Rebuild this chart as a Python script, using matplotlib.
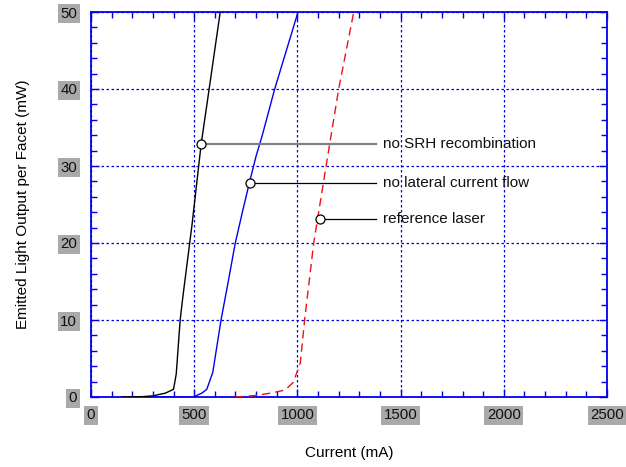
import matplotlib
matplotlib.use("Agg")
import matplotlib.pyplot as plt
from matplotlib.ticker import MultipleLocator

plt.rcParams['font.family'] = ['Liberation Sans', 'DejaVu Sans']

# Data (mA, mW)
srh_current = [150, 250, 300, 360, 400, 413, 432, 445, 490, 534, 574, 626]
srh_power = [0.0, 0.05, 0.15, 0.5, 1.0, 3.0, 10.0, 13.0, 22.5, 32.9, 40.3, 50.0]

lat_current = [300, 495, 537, 561, 590, 630, 665, 699, 736, 768, 800, 830, 890, 1003]
lat_power = [0.0, 0.0, 0.5, 1.0, 3.2, 10.0, 15.0, 20.0, 24.3, 27.9, 31.3, 34.0, 40.0, 50.0]

ref_current = [700, 800, 870, 940, 980, 1014, 1035, 1079, 1139, 1200, 1273]
ref_power = [0.0, 0.2, 0.5, 0.9, 1.9, 4.4, 10.0, 20.0, 30.0, 40.0, 50.0]

ann_labels = ["no SRH recombination", "no lateral current flow", "reference laser"]
ann_current = [534, 768, 1108]
ann_power = [32.9, 27.8, 23.1]
ann_line_colors = ["#808080", "black", "black"]
ann_line_widths = [1.6, 0.9, 0.9]

xticks = [0, 500, 1000, 1500, 2000, 2500]
yticks = [0, 10, 20, 30, 40, 50]

fig = plt.figure(figsize=(6.26, 4.67), dpi=100)
ax = fig.add_axes([91/626, 1-397/467, (607-91)/626, (397-12)/467])

ax.plot(srh_current, srh_power, color='black', lw=1.0, zorder=3)
ax.plot(lat_current, lat_power, color='#0000ee', lw=1.0, zorder=3)
ax.plot(ref_current, ref_power, color='#ee1111', lw=1.0, dashes=(6, 3.6), zorder=3)

for lab, xc, yc, lc, lw in zip(ann_labels, ann_current, ann_power, ann_line_colors, ann_line_widths):
    ax.plot([xc, 1380], [yc, yc], color=lc, lw=lw, zorder=4)
    ax.plot([xc], [yc], marker='o', ms=6.5, mfc='white', mec='black', mew=0.9, zorder=5)
    ax.text(1415, yc, lab, va='center', ha='left', fontsize=11, color='#111111')

ax.set_xlim(0, 2500)
ax.set_ylim(0, 50)
ax.set_xticks(xticks)
ax.set_yticks(yticks)
ax.xaxis.set_minor_locator(MultipleLocator(100))
ax.yaxis.set_minor_locator(MultipleLocator(2))

ax.grid(True, which='major', color='#0000ee', linestyle=(0, (2, 2)), lw=0.9)
ax.tick_params(which='both', direction='in', top=True, right=True, color='#0000ee',
               labelsize=10.8, labelcolor='#111111')
ax.tick_params(which='major', length=6, width=1)
ax.tick_params(which='minor', length=4, width=1)
ax.tick_params(axis='x', pad=8)
ax.tick_params(axis='y', pad=10)
for sp in ax.spines.values():
    sp.set_color('#0000ee')
    sp.set_linewidth(1.3)

for lbl in ax.get_xticklabels() + ax.get_yticklabels():
    lbl.set_bbox(dict(facecolor='#a9a9a9', edgecolor='none', pad=1.8))

ax.set_xlabel("Current (mA)", fontsize=11, labelpad=17)
ax.set_ylabel("Emitted Light Output per Facet (mW)", fontsize=11, labelpad=22)

fig.savefig("out.png", dpi=100)
